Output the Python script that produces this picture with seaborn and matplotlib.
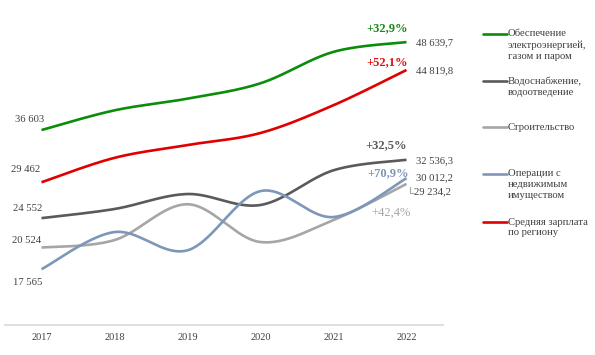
import numpy as np
import pandas as pd
import matplotlib
matplotlib.use("Agg")
import matplotlib.pyplot as plt
from matplotlib.lines import Line2D
import seaborn as sns

# ---- data ----
years = [2017, 2018, 2019, 2020, 2021, 2022]
energy = [36603, 39300, 40900, 43000, 47300, 48639.7]
water = [24552, 25800, 27850, 26350, 31100, 32536.3]
construction = [20524, 21550, 26450, 21280, 24300, 29234.2]
realestate = [17565, 22650, 20150, 28250, 24700, 30012.2]
salary = [29462, 32800, 34550, 36200, 40000, 44819.8]

series_names = [
    "Обеспечение\nэлектроэнергией,\nгазом и паром",
    "Водоснабжение,\nводоотведение",
    "Строительство",
    "Операции с\nнедвижимым\nимуществом",
    "Средняя зарплата\nпо региону",
]
series_values = [energy, water, construction, realestate, salary]
colors = ["#0b8c0b", "#5a5a5a", "#a6a6a6", "#7d97b9", "#e00000"]
start_labels = ["36 603", "24 552", "20 524", "17 565", "29 462"]
end_labels = ["48 639,7", "32 536,3", "29 234,2", "30 012,2", "44 819,8"]
pct_labels = ["+32,9%", "+32,5%", "+42,4%", "+70,9%", "+52,1%"]
pct_colors = ["#1a8a1a", "#595959", "#a6a6a6", "#7d97b9", "#e01010"]


def smooth(xs, ys, n=40):
    """Excel-style smoothed line (Bezier through points)."""
    P = np.column_stack([xs, ys]).astype(float)
    m = len(P)
    out = []
    for i in range(m - 1):
        p0 = P[max(i - 1, 0)]
        p1 = P[i]
        p2 = P[i + 1]
        p3 = P[min(i + 2, m - 1)]
        b1 = p1 + (p2 - p0) / 6.0
        b2 = p2 - (p3 - p1) / 6.0
        t = np.linspace(0, 1, n, endpoint=(i == m - 2))[:, None]
        seg = ((1 - t) ** 3) * p1 + 3 * ((1 - t) ** 2) * t * b1 + 3 * (1 - t) * t ** 2 * b2 + t ** 3 * p2
        out.append(seg)
    out = np.vstack(out)
    return out[:, 0], out[:, 1]


rows = []
for name, vals in zip(series_names, series_values):
    sx, sy = smooth(years, vals)
    for k, (a, b) in enumerate(zip(sx, sy)):
        rows.append({"year": a, "value": b, "series": name, "order": k})
df = pd.DataFrame(rows)

sns.set_theme(style="white")
plt.rcParams["font.family"] = ["Liberation Serif", "DejaVu Serif"]

W, H = 595, 355
fig = plt.figure(figsize=(W / 100, H / 100), dpi=100)
ax = fig.add_axes([5 / W, (H - 324.5) / H, 438 / W, 307 / H])

sns.lineplot(data=df, x="year", y="value", hue="series", hue_order=series_names,
             palette=colors, sort=False, estimator=None, units="series",
             linewidth=1.9, legend=False, ax=ax)
for line in ax.lines:
    line.set_solid_capstyle("butt")
    line.set_clip_on(False)

ax.set_xlim(2016.5, 2022.5)
ax.set_ylim(10000, 52000)
ax.set_xticks(years)
ax.set_xticklabels([str(y) for y in years], fontsize=7.5, color="#404040")
ax.set_yticks([])
ax.set_xlabel("")
ax.set_ylabel("")
ax.tick_params(axis="x", length=0, pad=6)
for s in ["top", "right", "left"]:
    ax.spines[s].set_visible(False)
ax.spines["bottom"].set_color("#d9d9d9")
ax.spines["bottom"].set_linewidth(1.2)

# start labels (offset in pixels from 2017 point)
start_off = [(3, 11), (1, 10), (0, 7.5), (1, -13), (-1, 13)]
for vals, lab, off in zip(series_values, start_labels, start_off):
    ax.annotate(lab, xy=(years[0], vals[0]), xytext=off, textcoords="offset pixels",
                ha="right", va="center", fontsize=7.7, color="#404040")

# end labels
end_off = [(9, -1), (9, -1), (8, -8), (9, 0), (9, -1)]
for vals, lab, off in zip(series_values, end_labels, end_off):
    ax.annotate(lab, xy=(years[-1], vals[-1]), xytext=off, textcoords="offset pixels",
                ha="left", va="center", fontsize=7.7, color="#404040")

# leader line for 29 234,2
lx, ly = ax.transData.transform((years[-1], construction[-1]))
fig.add_artist(Line2D([lx + 3, lx + 3, lx + 7], [ly - 3, ly - 9, ly - 9],
                      transform=None, color="#a6a6a6", lw=0.8))

# percent labels
pct_off = [(-19, 14), (-20, 15), (-15, -29), (-18, 5), (-19, 8)]
pct_bold = [True, True, False, True, True]
for vals, lab, off, c, b in zip(series_values, pct_labels, pct_off, pct_colors, pct_bold):
    ax.annotate(lab, xy=(years[-1], vals[-1]), xytext=off, textcoords="offset pixels",
                ha="center", va="center", fontsize=9, color=c,
                fontweight="bold" if b else "normal")

# legend (manual layout)
leg_y = [34, 81, 127, 174, 222]
for name, c, y in zip(series_names, colors, leg_y):
    fy = 1 - y / H
    fig.add_artist(Line2D([483 / W, 507 / W], [fy, fy], transform=fig.transFigure,
                          color=c, lw=1.9))
    fig.text(508 / W, fy + 4.5 / H, name, ha="left", va="top", fontsize=7.7,
             color="#404040", linespacing=1.25)

fig.savefig("out.png", dpi=100)
